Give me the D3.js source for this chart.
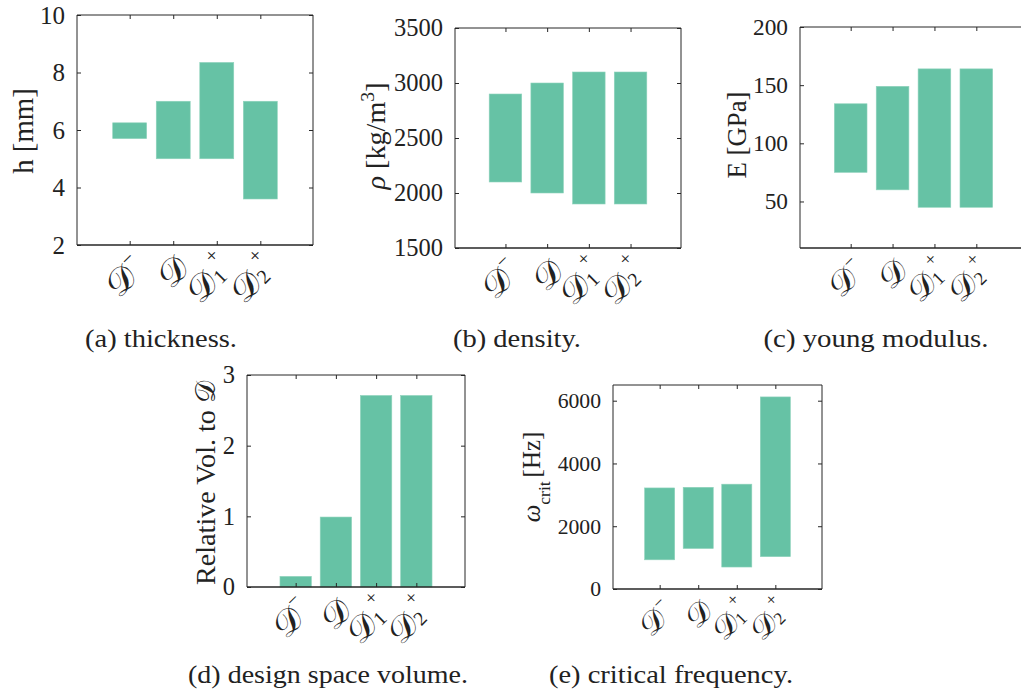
<!DOCTYPE html>
<html>
<head>
<meta charset="utf-8">
<script src="https://cdn.jsdelivr.net/npm/d3@7"></script>
<style>
  body { margin: 0; background: #fff; }
  text { font-family: "Liberation Serif", "DejaVu Serif", serif; fill: #222; }
</style>
</head>
<body>
<svg id="fig" width="1021" height="695"></svg>
<script>
// categories (script D variants)
var categories = ["Dm", "D", "D1p", "D2p"];

// (a) thickness [mm]
var thicknessLow = [5.7, 5.0, 5.0, 3.6];
var thicknessHigh = [6.25, 7.0, 8.35, 7.0];
var thicknessTicks = [2, 4, 6, 8, 10];

// (b) density [kg/m3]
var densityLow = [2100, 2000, 1900, 1900];
var densityHigh = [2900, 3000, 3100, 3100];
var densityTicks = [1500, 2000, 2500, 3000, 3500];

// (c) young modulus [GPa]
var modulusLow = [75, 60, 45, 45];
var modulusHigh = [134, 149, 164, 164];
var modulusTicks = [50, 100, 150, 200];

// (d) relative design space volume
var volumeLow = [0, 0, 0, 0];
var volumeHigh = [0.15, 0.99, 2.71, 2.71];
var volumeTicks = [0, 1, 2, 3];

// (e) critical frequency [Hz]
var freqLow = [930, 1290, 700, 1030];
var freqHigh = [3220, 3240, 3340, 6120];
var freqTicks = [0, 2000, 4000, 6000];

var barColour = "#66c2a5";
var axisColour = "#262626";
var calD = "\u{1D49F}";

var svg = d3.select("#fig");

var panels = [
    { box: [77, 15, 313, 245], domain: [2, 10], ticks: thicknessTicks, low: thicknessLow, high: thicknessHigh, fs: 25,
      label: "h", caption: "(a) thickness.", capX: 161, capY: 347, capW: 152, labX: 33, labY: 131 },
    { box: [455, 28, 681, 248], domain: [1500, 3500], ticks: densityTicks, low: densityLow, high: densityHigh, fs: 24.5,
      label: "rho", caption: "(b) density.", capX: 517, capY: 347, capW: 128, labX: 385, labY: 136 },
    { box: [800, 27, 1027, 248], domain: [10, 200], ticks: modulusTicks, low: modulusLow, high: modulusHigh, fs: 23.3,
      label: "E", caption: "(c) young modulus.", capX: 876, capY: 347, capW: 225, labX: 746, labY: 135 },
    { box: [247, 375, 465, 587], domain: [0, 3], ticks: volumeTicks, low: volumeLow, high: volumeHigh, fs: 24.5,
      label: "vol", caption: "(d) design space volume.", capX: 328, capY: 683, capW: 280, labX: 215, labY: 483 },
    { box: [613, 385, 822, 589], domain: [0, 6500], ticks: freqTicks, low: freqLow, high: freqHigh, fs: 21.7,
      label: "omega", caption: "(e) critical frequency.", capX: 671, capY: 683, capW: 244, labX: 540, labY: 477 }
];

panels.forEach(drawPanel);

function drawPanel(p) {
    var left = p.box[0], top = p.box[1], right = p.box[2], bottom = p.box[3];
    var fs = p.fs;
    var g = svg.append("g");

    var x = d3.scaleLinear()
        .domain([1 - 1.21, categories.length + 1.21])
        .range([left, right]);
    var y = d3.scaleLinear()
        .domain(p.domain)
        .range([bottom, top]);
    var bw = (x(2) - x(1)) * 0.78;

    g.selectAll("rect.bar")
        .data(categories)
        .enter()
        .append("rect")
        .attr("class", "bar")
        .attr("x", (d, i) => x(i + 1) - bw / 2)
        .attr("width", bw)
        .attr("y", (d, i) => y(p.high[i]))
        .attr("height", (d, i) => y(p.low[i]) - y(p.high[i]))
        .attr("fill", barColour)
        .attr("stroke", "#8fd3bc")
        .attr("stroke-width", 0.6);

    // left axis with labels, inward ticks
    var yAxis = d3.axisLeft(y).tickValues(p.ticks).tickSize(-4).tickPadding(12).tickFormat(d3.format("d"));
    var ga = g.append("g").attr("transform", `translate(${left},0)`).call(yAxis);
    ga.select(".domain").remove();
    ga.selectAll("line").attr("stroke", axisColour);
    ga.selectAll("text").style("font-size", fs + "px").attr("fill", "#222")
        .style("font-family", '"Liberation Serif", serif');

    // right inward ticks
    var gr = g.append("g").attr("transform", `translate(${right},0)`)
        .call(d3.axisRight(y).tickValues(p.ticks).tickSize(-4).tickFormat(""));
    gr.select(".domain").remove();
    gr.selectAll("line").attr("stroke", axisColour);

    // top and bottom inward ticks
    var cats = categories.map((d, i) => i + 1);
    var gb = g.append("g").attr("transform", `translate(0,${bottom})`)
        .call(d3.axisBottom(x).tickValues(cats).tickSize(-4).tickFormat(""));
    gb.select(".domain").remove();
    gb.selectAll("line").attr("stroke", axisColour);
    var gt = g.append("g").attr("transform", `translate(0,${top})`)
        .call(d3.axisTop(x).tickValues(cats).tickSize(-4).tickFormat(""));
    gt.select(".domain").remove();
    gt.selectAll("line").attr("stroke", axisColour);

    // box
    g.append("path")
        .attr("d", `M${left},${bottom}V${top}H${right}V${bottom}`)
        .attr("fill", "none").attr("stroke", axisColour).attr("stroke-width", 1);
    g.append("line")
        .attr("x1", left).attr("x2", right).attr("y1", bottom).attr("y2", bottom)
        .attr("stroke", axisColour).attr("stroke-width", 1.6);

    // rotated category labels
    var cs = fs * 1.4, ss = fs * 0.8;
    categories.forEach(function (c, i) {
        var t = g.append("text")
            .attr("transform", `translate(${x(i + 1) + 9},${bottom + 17}) rotate(-45)`)
            .attr("text-anchor", "end")
            .attr("dominant-baseline", "central")
            .style("font-size", cs + "px");
        t.append("tspan").text(calD);
        if (c === "Dm") {
            t.append("tspan").attr("dx", 1).attr("baseline-shift", fs * 0.45).style("font-size", ss + "px").text("\u2212");
        } else if (c === "D1p" || c === "D2p") {
            t.append("tspan").attr("dx", 1).attr("baseline-shift", -fs * 0.25).style("font-size", ss + "px").text(c === "D1p" ? "1" : "2");
            t.append("tspan").attr("dx", -2).attr("baseline-shift", fs * 0.6).style("font-size", ss + "px").text("+");
        }
    });

    // y axis label
    var ls = fs * 1.15;
    var lab = g.append("text")
        .attr("transform", `translate(${p.labX},${p.labY}) rotate(-90)`)
        .attr("text-anchor", "middle")
        .style("font-size", ls + "px");
    if (p.label === "h") {
        lab.text("h [mm]");
    } else if (p.label === "rho") {
        lab.append("tspan").style("font-style", "italic").text("\u03c1");
        lab.append("tspan").text(" [kg/m");
        lab.append("tspan").attr("baseline-shift", "super").style("font-size", (ls * 0.7) + "px").text("3");
        lab.append("tspan").text("]");
    } else if (p.label === "E") {
        lab.text("E [GPa]");
    } else if (p.label === "vol") {
        lab.append("tspan").text("Relative Vol. to ");
        lab.append("tspan").text(calD);
    } else {
        lab.append("tspan").style("font-style", "italic").text("\u03c9");
        lab.append("tspan").attr("baseline-shift", "sub").style("font-size", (ls * 0.7) + "px").text("crit");
        lab.append("tspan").attr("dx", 4).text("[Hz]");
    }

    // caption
    g.append("text")
        .attr("x", p.capX).attr("y", p.capY)
        .attr("text-anchor", "middle")
        .attr("textLength", p.capW)
        .attr("lengthAdjust", "spacingAndGlyphs")
        .style("font-size", "26px")
        .text(p.caption);
}
</script>
</body>
</html>
